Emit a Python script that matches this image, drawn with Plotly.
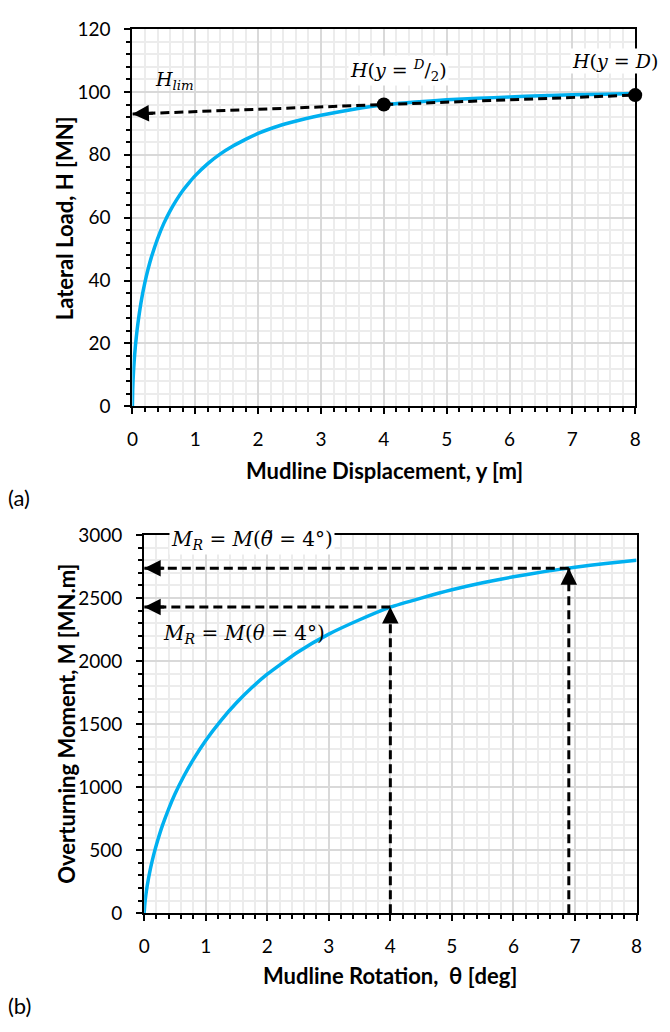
import plotly.graph_objects as go

# (a) lateral load vs mudline displacement
disp_y = [0, 0.005, 0.01, 0.02, 0.035, 0.05, 0.075, 0.1, 0.15, 0.2, 0.25, 0.3, 0.4, 0.5, 0.6, 0.7, 0.8, 0.9,
          1.0, 1.2, 1.4, 1.6, 1.8, 2.0, 2.25, 2.5, 2.75, 3.0, 3.5, 4.0, 4.5, 5.0, 5.5, 6.0, 6.5, 7.0, 7.5, 8.0]
load_H = [0, 5.3, 8.0, 11.8, 16.2, 19.6, 24.3, 28.2, 34.5, 39.5, 43.7, 47.3, 53.3, 58.2, 62.2, 65.6, 68.6, 71.1,
          73.4, 77.2, 80.3, 82.8, 84.9, 86.8, 88.7, 90.2, 91.5, 92.6, 94.4, 95.9, 96.8, 97.5, 98.0, 98.4, 98.8, 99.1, 99.3, 99.5]

# limit-load construction: back-extrapolated line through H(D/2) and H(D)
h_lim_x = [0, 4, 8]
h_lim_H = [93, 96, 99]
ref_pts_x = [4, 8]
ref_pts_H = [96, 99]

# (b) overturning moment vs mudline rotation
rot_theta = [0, 0.01, 0.025, 0.05, 0.1, 0.15, 0.2, 0.3, 0.4, 0.5, 0.65, 0.8, 1.0, 1.25, 1.5, 1.75, 2.0, 2.5,
             3.0, 3.5, 4.0, 4.5, 5.0, 5.5, 6.0, 6.5, 7.0, 7.5, 8.0]
moment_M = [0, 70, 135, 220, 350, 455, 545, 700, 830, 945, 1092, 1220, 1370, 1530, 1669, 1790, 1896, 2073,
            2214, 2328, 2428, 2500, 2566, 2622, 2669, 2710, 2745, 2775, 2800]

theta_R = [4, 6.9]
M_R = [2430, 2737]

x_ticks = [0, 1, 2, 3, 4, 5, 6, 7, 8]
y_ticks_a = [0, 20, 40, 60, 80, 100, 120]
y_ticks_b = [0, 500, 1000, 1500, 2000, 2500, 3000]

CURVE = "#00B0F0"
FONT = "Lato"
MATH = "DejaVu Serif"
DASH = "9px,5px"
W, Hh = 670, 1032

fig = go.Figure()

fig.add_trace(go.Scatter(x=disp_y, y=load_H, mode="lines",
                         line=dict(color=CURVE, width=3.5, shape="spline", smoothing=0.5),
                         xaxis="x", yaxis="y", showlegend=False, hoverinfo="skip"))
fig.add_trace(go.Scatter(x=h_lim_x, y=h_lim_H, mode="lines", line=dict(color="black", width=3, dash=DASH),
                         xaxis="x", yaxis="y", showlegend=False, cliponaxis=False))
fig.add_trace(go.Scatter(x=ref_pts_x, y=ref_pts_H, mode="markers", marker=dict(color="black", size=14),
                         xaxis="x", yaxis="y", showlegend=False, cliponaxis=False))

fig.add_trace(go.Scatter(x=rot_theta, y=moment_M, mode="lines",
                         line=dict(color=CURVE, width=3.5, shape="spline", smoothing=0.5),
                         xaxis="x2", yaxis="y2", showlegend=False, hoverinfo="skip"))
for t, m in zip(theta_R, M_R):
    fig.add_trace(go.Scatter(x=[t, t], y=[0, m], mode="lines", line=dict(color="black", width=3, dash=DASH),
                             xaxis="x2", yaxis="y2", showlegend=False))
    fig.add_trace(go.Scatter(x=[t, 0], y=[m, m], mode="lines", line=dict(color="black", width=3, dash=DASH),
                             xaxis="x2", yaxis="y2", showlegend=False))

annotations = []


def head(x, y, ax, ay, xr, yr):
    """Arrowhead whose tip sits on (x, y)."""
    annotations.append(dict(x=x, y=y, ax=ax, ay=ay, xref=xr, yref=yr, axref=xr, ayref=yr, text="",
                            showarrow=True, arrowhead=2, arrowsize=1.1, arrowwidth=3,
                            arrowcolor="black", standoff=0))


head(h_lim_x[0], h_lim_H[0], 0.35, h_lim_H[0] + 0.26, "x", "y")
for t, m in zip(theta_R, M_R):
    head(0, m, 0.35, m, "x2", "y2")
    head(t, m, t, m - 120, "x2", "y2")


def px(x_px, y_px):
    """Pixel position on the page -> paper coordinates."""
    return x_px / W, 1 - y_px / Hh


def label(x_px, y_px, text, font, angle=0, bg=None):
    x, y = px(x_px, y_px)
    d = dict(x=x, y=y, xref="paper", yref="paper", text=text, showarrow=False, font=font,
             textangle=angle, xanchor="center", yanchor="middle")
    if bg:
        d["bgcolor"] = bg
    annotations.append(d)


math_font = dict(family=MATH, size=19, color="black")
math_font_b = dict(family=MATH, size=20, color="black")
title_font = dict(family=FONT, size=22, color="black")

label(172, 70, "<i>H</i><sub><i>lim</i></sub>", math_font)
label(400, 60, "<i>H</i>(<i>y</i> = <sup><i>D</i></sup>/<sub>2</sub>)", math_font, bg="white")
label(620, 50, "<i>H</i>(<i>y</i> = <i>D</i>)", math_font, bg="white")
label(250, 540, "<i>M</i><sub><i>R</i></sub> = <i>M</i>(<i>θ\u0303</i> = 4°)", math_font_b, bg="white")
label(242, 636, "<i>M</i><sub><i>R</i></sub> = <i>M</i>(<i>θ</i> = 4°)", math_font_b)

# axis titles
label(385, 469, "<b>Mudline Displacement, y [m]</b>", title_font)
label(59, 211, "<b>Lateral Load, H [MN]</b>", title_font, angle=-90)
label(391, 985, "<b>Mudline Rotation,  θ [deg]</b>", title_font)
label(62, 728, "<b>Overturning Moment, M [MN.m]</b>", title_font, angle=-90)

# panel tags
for tag, ypos in (("(a)", 497), ("(b)", 1016)):
    x, y = px(0, ypos)
    annotations.append(dict(x=x, y=y, xref="paper", yref="paper", text=tag, showarrow=False,
                            font=dict(family=FONT, size=22, color="black"), xanchor="left", yanchor="middle"))


def axis_style(minor_dtick, rng, domain, anchor, tickvals, label_gap):
    return dict(
        range=rng, domain=domain, anchor=anchor, tickvals=tickvals,
        showline=True, linecolor="black", linewidth=2, mirror=True,
        ticks="outside", ticklen=6, tickwidth=2, tickcolor="black",
        ticklabelstandoff=label_gap,
        showgrid=True, gridcolor="#d9d9d9", gridwidth=1.5,
        minor=dict(dtick=minor_dtick, ticks="outside", ticklen=4, tickwidth=2, tickcolor="black",
                   showgrid=True, gridcolor="#ececec", gridwidth=1.5),
        tickfont=dict(family=FONT, size=19, color="black"),
        zeroline=False, fixedrange=True,
    )


def inner_ticks(base, rng, anchor, tickvals, side):
    """Short inward stubs so the major ticks cross the axis line."""
    return dict(overlaying=base, range=rng, anchor=anchor, side=side, tickvals=tickvals,
                ticks="inside", ticklen=5, tickwidth=2, tickcolor="black",
                showticklabels=False, showgrid=False, showline=False, zeroline=False, fixedrange=True)


fig.update_layout(
    width=W, height=Hh, margin=dict(l=0, r=0, t=0, b=0),
    paper_bgcolor="white", plot_bgcolor="white",
    xaxis=axis_style(0.2, [0, 8], [128.7 / W, 640.7 / W], "y", x_ticks, 9),
    yaxis=axis_style(4, [0, 120], [1 - 403.3 / Hh, 1 - 17.5 / Hh], "x", y_ticks_a, 10),
    xaxis2=axis_style(0.2, [0, 8], [140.7 / W, 642 / W], "y2", x_ticks, 9),
    yaxis2=axis_style(100, [0, 3000], [1 - 921.7 / Hh, 1 - 535 / Hh], "x2", y_ticks_b, 10),
    xaxis3=inner_ticks("x", [0, 8], "y", x_ticks, "bottom"),
    yaxis3=inner_ticks("y", [0, 120], "x", y_ticks_a, "left"),
    xaxis4=inner_ticks("x2", [0, 8], "y2", x_ticks, "bottom"),
    yaxis4=inner_ticks("y2", [0, 3000], "x2", y_ticks_b, "left"),
    annotations=annotations,
)

fig.write_html("out.html")
